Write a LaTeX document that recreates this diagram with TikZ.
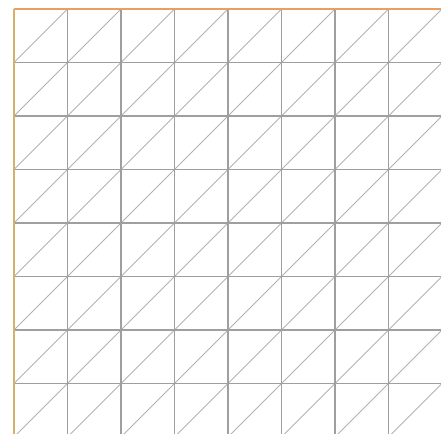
\documentclass[tikz,border=0pt]{standalone}
\usepackage{xcolor}
\definecolor{colTop}{RGB}{232,158,100}
\definecolor{colLeft}{RGB}{214,178,104}
\colorlet{colGrid}{gray!75}
\colorlet{colDiag}{gray!60}
\usepackage{tikz}

\begin{document}
\begin{tikzpicture}[x=1cm, y=1cm]
				\useasboundingbox (-0.262,0.056) rectangle (7.981,8.168);
				\clip (-0.262,0.056) rectangle (7.981,8.168);
				% Diagonals of each cell
				\foreach \i in {0,...,7}
					\foreach \j in {0,...,7}
						\draw[colDiag, line width=0.5pt] (\i,\j) -- (\i+1,\j+1);
				% Grid lines
				\foreach \k in {0,...,8} {
					\draw[colGrid, line width=0.65pt] (\k,0) -- (\k,8);
					\draw[colGrid, line width=0.65pt] (0,\k) -- (8,\k);
				}
				% Boundary edges
				\draw[colTop, line width=0.8pt] (0,8) -- (8,8);
				\draw[colLeft, line width=0.8pt] (0,0) -- (0,8);
			\end{tikzpicture}
\end{document}
